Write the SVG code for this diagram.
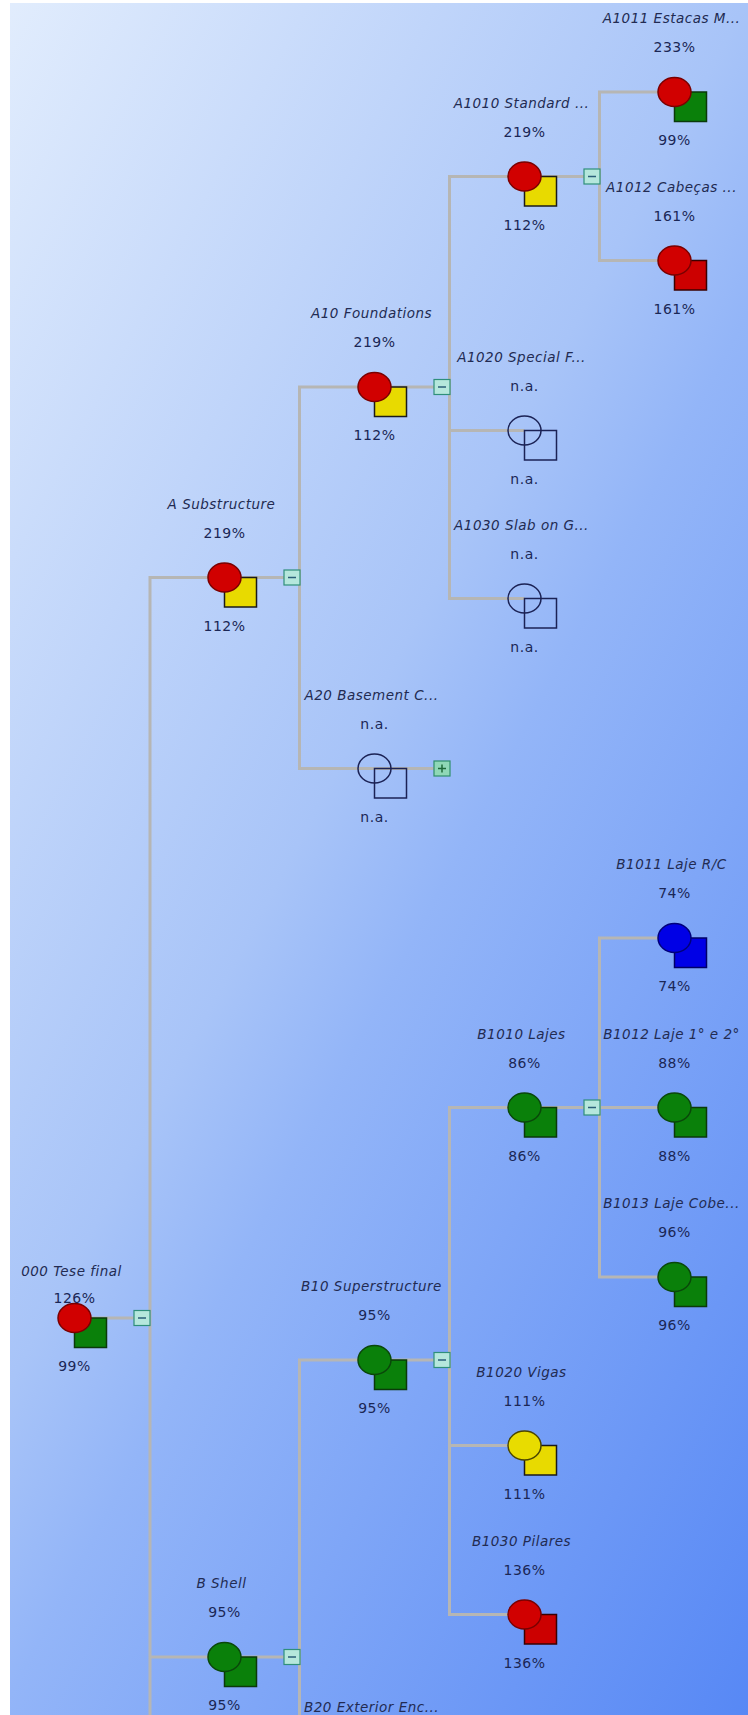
<svg xmlns="http://www.w3.org/2000/svg" width="748" height="1715" viewBox="0 0 748 1715">
<defs>
<linearGradient id="bg" gradientUnits="userSpaceOnUse" x1="0" y1="0" x2="1294" y2="690">
<stop offset="0" stop-color="#e2edfd"/>
<stop offset="0.45" stop-color="#a8c4f8"/>
<stop offset="0.55" stop-color="#93b5f8"/>
<stop offset="1" stop-color="#5788f5"/>
</linearGradient>
<style>
.ln{stroke:#b6b6b4;stroke-width:3;fill:none}
.lbl{font-family:"DejaVu Sans",Verdana,sans-serif;font-size:13.5px;font-style:italic;fill:#222b52;text-anchor:middle;letter-spacing:0.5px}
.pct{font-family:"DejaVu Sans",Verdana,sans-serif;font-size:14px;fill:#1b2756;text-anchor:middle;letter-spacing:0.5px}
.tg rect{fill:#b5e7dc;stroke:#2f8f7b;stroke-width:1.2}
.tg path{stroke:#2b5f7a;stroke-width:1.5;fill:none}
.tp rect{fill:#8fd8b6;stroke:#2f8f6b;stroke-width:1.2}
.tp path{stroke:#1f6a3a;stroke-width:1.5;fill:none}
.cr{fill:#d10000;stroke:#7a0000;stroke-width:1.5}
.cg{fill:#0a800a;stroke:#0a470a;stroke-width:1.5}
.cy{fill:#e8dc00;stroke:#4a4500;stroke-width:1.5}
.cb{fill:#0000e6;stroke:#00007a;stroke-width:1.5}
.cn{fill:none;stroke:#1b2255;stroke-width:1.5}
.sr{fill:#cc0000;stroke:#3a0000;stroke-width:1.5}
.sg{fill:#0a800a;stroke:#0a3a0a;stroke-width:1.5}
.sy{fill:#e8da00;stroke:#1a1a1a;stroke-width:1.5}
.sb{fill:#0000e6;stroke:#000066;stroke-width:1.5}
.sn{fill:none;stroke:#1b2255;stroke-width:1.5}
</style>
</defs>
<rect x="0" y="0" width="748" height="1715" fill="#ffffff"/>
<rect x="10" y="3" width="738" height="1712" fill="url(#bg)"/>

<g id="connectors">
<path class="ln" d="M74.5 1318 H150"/>
<path class="ln" d="M150 1715 V577.5 H224.5"/>
<path class="ln" d="M150 1657 H224.5"/>
<path class="ln" d="M224.5 577.5 H299.5"/>
<path class="ln" d="M374.5 387 H299.5 V768.5 H374.5"/>
<path class="ln" d="M374.5 387 H449.5"/>
<path class="ln" d="M524.5 176.5 H449.5 V598.5 H524.5"/>
<path class="ln" d="M449.5 430.5 H524.5"/>
<path class="ln" d="M524.5 176.5 H599.5"/>
<path class="ln" d="M674.5 92 H599.5 V260.5 H674.5"/>
<path class="ln" d="M374.5 768.5 H449.5"/>
<path class="ln" d="M224.5 1657 H299.5"/>
<path class="ln" d="M374.5 1360 H299.5 V1715"/>
<path class="ln" d="M374.5 1360 H449.5"/>
<path class="ln" d="M524.5 1107.5 H449.5 V1614.5 H524.5"/>
<path class="ln" d="M449.5 1445.5 H524.5"/>
<path class="ln" d="M524.5 1107.5 H599.5"/>
<path class="ln" d="M674.5 938 H599.5 V1277 H674.5"/>
<path class="ln" d="M599.5 1107.5 H674.5"/>
</g>

<g id="n000" transform="translate(74.5,1318)">
<rect class="sg" x="0" y="0" width="32" height="29.5"/><ellipse class="cr" cx="0" cy="0" rx="16.5" ry="14.5"/>
<text class="lbl" x="-3" y="-42">000 Tese final</text><text class="pct" x="0" y="-15">126%</text><text class="pct" x="0" y="53">99%</text>
<g class="tg"><rect x="59.5" y="-7.5" width="16" height="15"/><path d="M63.5 0 H71.5"/></g>
</g>

<g id="nA" transform="translate(224.5,577.5)">
<rect class="sy" x="0" y="0" width="32" height="29.5"/><ellipse class="cr" cx="0" cy="0" rx="16.5" ry="14.5"/>
<text class="lbl" x="-3" y="-69">A Substructure</text><text class="pct" x="0" y="-40">219%</text><text class="pct" x="0" y="53">112%</text>
<g class="tg"><rect x="59.5" y="-7.5" width="16" height="15"/><path d="M63.5 0 H71.5"/></g>
</g>

<g id="nA10" transform="translate(374.5,387)">
<rect class="sy" x="0" y="0" width="32" height="29.5"/><ellipse class="cr" cx="0" cy="0" rx="16.5" ry="14.5"/>
<text class="lbl" x="-3" y="-69">A10 Foundations</text><text class="pct" x="0" y="-40">219%</text><text class="pct" x="0" y="53">112%</text>
<g class="tg"><rect x="59.5" y="-7.5" width="16" height="15"/><path d="M63.5 0 H71.5"/></g>
</g>

<g id="nA1010" transform="translate(524.5,176.5)">
<rect class="sy" x="0" y="0" width="32" height="29.5"/><ellipse class="cr" cx="0" cy="0" rx="16.5" ry="14.5"/>
<text class="lbl" x="-3" y="-69">A1010 Standard ...</text><text class="pct" x="0" y="-40">219%</text><text class="pct" x="0" y="53">112%</text>
<g class="tg"><rect x="59.5" y="-7.5" width="16" height="15"/><path d="M63.5 0 H71.5"/></g>
</g>

<g id="nA1011" transform="translate(674.5,92)">
<rect class="sg" x="0" y="0" width="32" height="29.5"/><ellipse class="cr" cx="0" cy="0" rx="16.5" ry="14.5"/>
<text class="lbl" x="-3" y="-69">A1011 Estacas M...</text><text class="pct" x="0" y="-40">233%</text><text class="pct" x="0" y="53">99%</text>
</g>

<g id="nA1012" transform="translate(674.5,260.5)">
<rect class="sr" x="0" y="0" width="32" height="29.5"/><ellipse class="cr" cx="0" cy="0" rx="16.5" ry="14.5"/>
<text class="lbl" x="-3" y="-69">A1012 Cabeças ...</text><text class="pct" x="0" y="-40">161%</text><text class="pct" x="0" y="53">161%</text>
</g>

<g id="nA1020" transform="translate(524.5,430.5)">
<rect class="sn" x="0" y="0" width="32" height="29.5"/><ellipse class="cn" cx="0" cy="0" rx="16.5" ry="14.5"/>
<text class="lbl" x="-3" y="-69">A1020 Special F...</text><text class="pct" x="0" y="-40">n.a.</text><text class="pct" x="0" y="53">n.a.</text>
</g>

<g id="nA1030" transform="translate(524.5,598.5)">
<rect class="sn" x="0" y="0" width="32" height="29.5"/><ellipse class="cn" cx="0" cy="0" rx="16.5" ry="14.5"/>
<text class="lbl" x="-3" y="-69">A1030 Slab on G...</text><text class="pct" x="0" y="-40">n.a.</text><text class="pct" x="0" y="53">n.a.</text>
</g>

<g id="nA20" transform="translate(374.5,768.5)">
<rect class="sn" x="0" y="0" width="32" height="29.5"/><ellipse class="cn" cx="0" cy="0" rx="16.5" ry="14.5"/>
<text class="lbl" x="-3" y="-69">A20 Basement C...</text><text class="pct" x="0" y="-40">n.a.</text><text class="pct" x="0" y="53">n.a.</text>
<g class="tp"><rect x="59.5" y="-7.5" width="16" height="15"/><path d="M63.5 0 H71.5 M67.5 -4 V4"/></g>
</g>

<g id="nB" transform="translate(224.5,1657)">
<rect class="sg" x="0" y="0" width="32" height="29.5"/><ellipse class="cg" cx="0" cy="0" rx="16.5" ry="14.5"/>
<text class="lbl" x="-3" y="-69">B Shell</text><text class="pct" x="0" y="-40">95%</text><text class="pct" x="0" y="53">95%</text>
<g class="tg"><rect x="59.5" y="-7.5" width="16" height="15"/><path d="M63.5 0 H71.5"/></g>
</g>

<g id="nB10" transform="translate(374.5,1360)">
<rect class="sg" x="0" y="0" width="32" height="29.5"/><ellipse class="cg" cx="0" cy="0" rx="16.5" ry="14.5"/>
<text class="lbl" x="-3" y="-69">B10 Superstructure</text><text class="pct" x="0" y="-40">95%</text><text class="pct" x="0" y="53">95%</text>
<g class="tg"><rect x="59.5" y="-7.5" width="16" height="15"/><path d="M63.5 0 H71.5"/></g>
</g>

<g id="nB1010" transform="translate(524.5,1107.5)">
<rect class="sg" x="0" y="0" width="32" height="29.5"/><ellipse class="cg" cx="0" cy="0" rx="16.5" ry="14.5"/>
<text class="lbl" x="-3" y="-69">B1010 Lajes</text><text class="pct" x="0" y="-40">86%</text><text class="pct" x="0" y="53">86%</text>
<g class="tg"><rect x="59.5" y="-7.5" width="16" height="15"/><path d="M63.5 0 H71.5"/></g>
</g>

<g id="nB1011" transform="translate(674.5,938)">
<rect class="sb" x="0" y="0" width="32" height="29.5"/><ellipse class="cb" cx="0" cy="0" rx="16.5" ry="14.5"/>
<text class="lbl" x="-3" y="-69">B1011 Laje R/C</text><text class="pct" x="0" y="-40">74%</text><text class="pct" x="0" y="53">74%</text>
</g>

<g id="nB1012" transform="translate(674.5,1107.5)">
<rect class="sg" x="0" y="0" width="32" height="29.5"/><ellipse class="cg" cx="0" cy="0" rx="16.5" ry="14.5"/>
<text class="lbl" x="-3" y="-69">B1012 Laje 1° e 2°</text><text class="pct" x="0" y="-40">88%</text><text class="pct" x="0" y="53">88%</text>
</g>

<g id="nB1013" transform="translate(674.5,1277)">
<rect class="sg" x="0" y="0" width="32" height="29.5"/><ellipse class="cg" cx="0" cy="0" rx="16.5" ry="14.5"/>
<text class="lbl" x="-3" y="-69">B1013 Laje Cobe...</text><text class="pct" x="0" y="-40">96%</text><text class="pct" x="0" y="53">96%</text>
</g>

<g id="nB1020" transform="translate(524.5,1445.5)">
<rect class="sy" x="0" y="0" width="32" height="29.5"/><ellipse class="cy" cx="0" cy="0" rx="16.5" ry="14.5"/>
<text class="lbl" x="-3" y="-69">B1020 Vigas</text><text class="pct" x="0" y="-40">111%</text><text class="pct" x="0" y="53">111%</text>
</g>

<g id="nB1030" transform="translate(524.5,1614.5)">
<rect class="sr" x="0" y="0" width="32" height="29.5"/><ellipse class="cr" cx="0" cy="0" rx="16.5" ry="14.5"/>
<text class="lbl" x="-3" y="-69">B1030 Pilares</text><text class="pct" x="0" y="-40">136%</text><text class="pct" x="0" y="53">136%</text>
</g>

<g id="nB20" transform="translate(374.5,1781)">
<text class="lbl" x="-3" y="-69">B20 Exterior Enc...</text>
</g>
</svg>
